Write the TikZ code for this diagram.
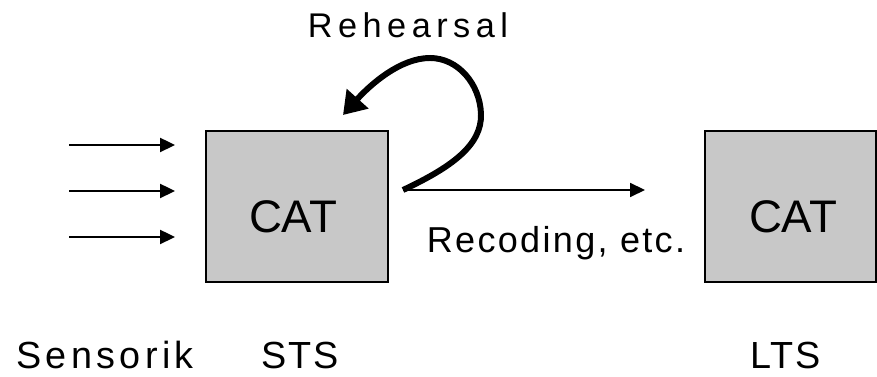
\documentclass[tikz,border=0pt]{standalone}
\usepackage{fontspec}
\setmainfont{Liberation Sans}
\usetikzlibrary{arrows.meta}
\definecolor{boxgray}{RGB}{200,200,200}
\tikzset{
  store/.style={draw=black,line width=1.1pt,fill=boxgray,minimum height=3.02cm,inner sep=0pt},
  storetext/.style={anchor=base,inner sep=0pt,font=\fontsize{26}{30}\selectfont},
  caption/.style={anchor=base,inner sep=0pt,font=\fontsize{21.5}{24}\selectfont},
  input/.style={line width=1.1pt,-{Triangle[length=8.5pt,width=8pt]}},
  flow/.style={line width=0.9pt,-{Triangle[length=8.5pt,width=8pt]}},
  rehearse/.style={line width=3.4pt,-{Triangle[length=12.5pt,width=16pt]}}
}
\begin{document}
\begin{tikzpicture}[x=0.02cm,y=-0.02cm]
\useasboundingbox (0,0) rectangle (877,377);
\node[store,minimum width=3.64cm] (sts) at (297,206.5) {};
\node[store,minimum width=3.42cm] (lts) at (790.5,206.5) {};
\node[storetext] (stscat) at (293,233) {CAT};
\node[storetext] (ltscat) at (793,233) {CAT};
\coordinate (in1) at (69,145);
\coordinate (in2) at (69,191);
\coordinate (in3) at (69,237);
\coordinate (at1) at (175,145);
\coordinate (at2) at (175,191);
\coordinate (at3) at (175,237);
\draw[input] (in1) -- (at1);
\draw[input] (in2) -- (at2);
\draw[input] (in3) -- (at3);
\coordinate (loop) at (403,190);
\coordinate (recode) at (645,190);
\coordinate (back) at (343,115);
\draw[flow] (loop) -- (recode);
\draw[rehearse,line cap=butt] (loop) .. controls (452,167) and (482,145) .. (481,114)
  .. controls (480,84) and (458,58) .. (430,58)
  .. controls (400,58) and (370,85) .. (back);
\node[caption,font=\fontsize{19.5}{22}\selectfont\addfontfeatures{LetterSpace=16}] (rehearsal) at (408,38) {Rehearsal};
\node[caption,font=\fontsize{20.5}{24}\selectfont\addfontfeatures{LetterSpace=6.5}] (recoding) at (556,253) {Recoding, etc.};
\node[caption,font=\fontsize{21.5}{24}\selectfont\addfontfeatures{LetterSpace=11.5}] (sensorik) at (105,369) {Sensorik};
\node[caption,font=\fontsize{21.5}{24}\selectfont\addfontfeatures{LetterSpace=5}] (stslabel) at (300,369) {STS};
\node[caption,font=\fontsize{21.5}{24}\selectfont\addfontfeatures{LetterSpace=5}] (ltslabel) at (786,369) {LTS};
\end{tikzpicture}
\end{document}
